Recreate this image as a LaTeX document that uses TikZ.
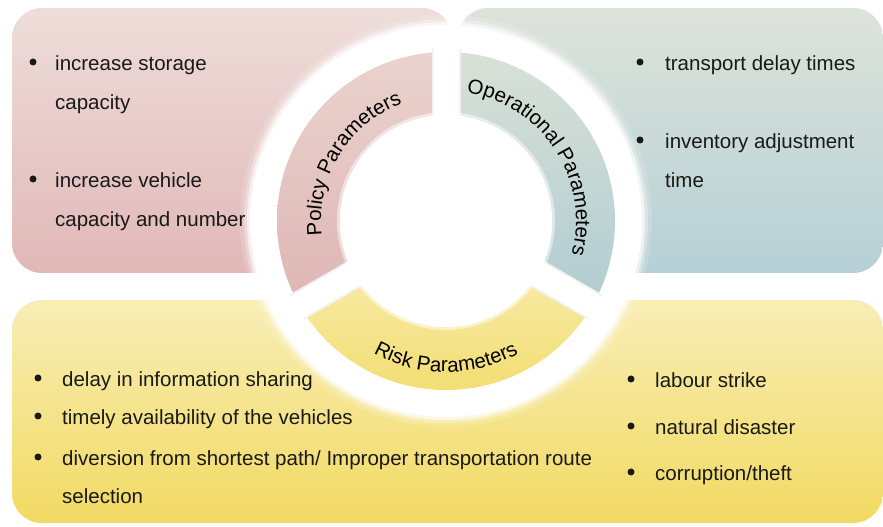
\documentclass[tikz,border=0pt]{standalone}
\usepackage{fontspec}
\setmainfont{Liberation Sans}
\usetikzlibrary{decorations.text}

\definecolor{pinktop}{RGB}{237,221,217}
\definecolor{pinkbot}{RGB}{225,184,184}
\definecolor{greentop}{RGB}{221,227,218}
\definecolor{greenbot}{RGB}{182,208,214}
\definecolor{yeltop}{RGB}{248,238,182}
\definecolor{yelbot}{RGB}{242,218,98}
\definecolor{polsegtop}{RGB}{234,211,206}
\definecolor{polsegbot}{RGB}{222,182,180}
\definecolor{opsegtop}{RGB}{216,225,214}
\definecolor{opsegbot}{RGB}{176,204,210}
\definecolor{risksegtop}{RGB}{247,234,165}
\definecolor{risksegbot}{RGB}{242,220,105}
\definecolor{ink}{RGB}{25,25,25}

\newcommand{\itemfont}{\fontsize{20.5}{24}\selectfont}
\newcommand{\segfont}{\fontsize{20.5}{22}\selectfont}

\tikzset{
  panel/.style={rounded corners=30pt},
  item/.style={anchor=base west, inner sep=0pt, font=\itemfont, text=ink},
  bul/.style={fill=ink},
  seglabel/.style={decorate, decoration={text along path, text align=center, text color=black}},
}

\begin{document}
\begin{tikzpicture}[x=1pt,y=1pt]
		\fill[white] (0,0) rectangle (883,527);
		\useasboundingbox (0,0) rectangle (883,527);
		
		% panels
		\shade[panel, top color=pinktop, bottom color=pinkbot] (12,254) rectangle (452,519);
		\shade[panel, top color=greentop, bottom color=greenbot] (458,254) rectangle (883,519);
		\shade[panel, top color=yeltop, bottom color=yelbot] (12,4) rectangle (883,227);
		
		% wheel
		\begin{scope}[shift={(446,306)}]
			\fill[white, opacity=0.15] (0,0) circle (206);
			\fill[white, opacity=0.3] (0,0) circle (202);
			\fill[white, opacity=0.6] (0,0) circle (199);
			\fill[white] (0,0) circle (196);
			
			\shade[top color=polsegtop, bottom color=polsegbot] (90:169) arc (90:210:169) -- (210:106) arc (210:90:106) -- cycle;
			\shade[top color=opsegtop, bottom color=opsegbot] (90:169) arc (90:-30:169) -- (-30:106) arc (-30:90:106) -- cycle;
			\shade[top color=risksegtop, bottom color=risksegbot] (210:169) arc (210:330:169) -- (330:106) arc (330:210:106) -- cycle;
			
			\draw[black!5, line width=29pt] (90:98) -- (90:172);
			\draw[black!5, line width=29pt] (210:98) -- (210:172);
			\draw[black!5, line width=29pt] (330:98) -- (330:172);
			\draw[white, line width=25pt] (90:95) -- (90:178);
			\draw[white, line width=25pt] (210:95) -- (210:178);
			\draw[white, line width=25pt] (330:95) -- (330:178);
			\fill[white, opacity=0.5] (0,0) circle (109);
			\fill[white] (0,0) circle (106);
			
			\path[seglabel, decoration={text={|\segfont|Policy Parameters}}] (200:125) arc (200:97:125);
			\path[seglabel, decoration={text={|\segfont|Operational Parameters}}] (90:130) arc (90:-24:130);
			\path[seglabel, decoration={text={|\segfont|Risk Parameters}}] (225:151) arc (225:315:151);
		\end{scope}
		
		% policy items
		\fill[bul] (33,465) circle (3.5);
		\node[item] (pol1a) at (55,456) {increase storage};
		\node[item] (pol1b) at (55,417) {capacity};
		\fill[bul] (33,348) circle (3.5);
		\node[item] (pol2a) at (55,339) {increase vehicle};
		\node[item] (pol2b) at (55,300) {capacity and number};
		
		% operational items
		\fill[bul] (640,465) circle (3.5);
		\node[item] (op1) at (665,456) {transport delay times};
		\fill[bul] (640,387) circle (3.5);
		\node[item] (op2a) at (665,378) {inventory adjustment};
		\node[item] (op2b) at (665,339) {time};
		
		% risk items
		\fill[bul] (38,149) circle (3.5);
		\node[item] (risk1) at (62,140) {delay in information sharing};
		\fill[bul] (38,111) circle (3.5);
		\node[item] (risk2) at (62,102) {timely availability of the vehicles};
		\fill[bul] (38,70) circle (3.5);
		\node[item] (risk3a) at (62,61) {diversion from shortest path/ Improper transportation route};
		\node[item] (risk3b) at (62,23) {selection};
		\fill[bul] (631,148) circle (3.5);
		\node[item] (risk4) at (655,139) {labour strike};
		\fill[bul] (631,101) circle (3.5);
		\node[item] (risk5) at (655,92) {natural disaster};
		\fill[bul] (631,55) circle (3.5);
		\node[item] (risk6) at (655,46) {corruption/theft};
	\end{tikzpicture}
\end{document}
